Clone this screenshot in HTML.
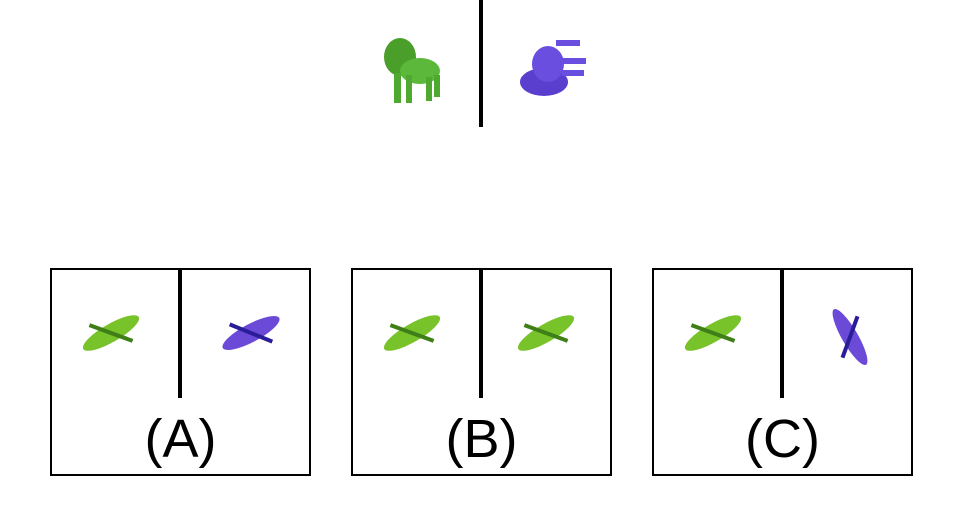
<!DOCTYPE html>
<html><head><meta charset="utf-8"><style>
body{margin:0;width:963px;height:526px;background:#fff;position:relative;overflow:hidden;font-family:"Liberation Sans",sans-serif}
.box{position:absolute;top:268px;width:257px;height:204px;border:2px solid #000;background:#fff}
.div{position:absolute;left:126px;top:0;width:4px;height:128px;background:#000}
.lab{position:absolute;left:0;width:100%;top:138px;text-align:center;font-size:54px;line-height:62px;color:#000}
svg{position:absolute}
</style></head><body>
<div style="position:absolute;left:479px;top:0;width:4px;height:127px;background:#000"></div>
<svg style="left:380px;top:35px" width="64" height="70" viewBox="0 0 64 70">
<ellipse cx="20" cy="22" rx="16" ry="19" fill="#4a9e2a"/><ellipse cx="40" cy="36" rx="20" ry="13" fill="#5cb83a"/>
<rect x="14" y="38" width="7" height="30" fill="#4fa82f"/><rect x="26" y="40" width="6" height="28" fill="#4fa82f"/><rect x="46" y="42" width="6" height="24" fill="#4fa82f"/><rect x="54" y="40" width="6" height="22" fill="#4fa82f"/>
</svg>
<svg style="left:518px;top:36px" width="70" height="64" viewBox="0 0 70 64">
<ellipse cx="26" cy="46" rx="24" ry="14" fill="#5a3fcf"/><ellipse cx="30" cy="28" rx="16" ry="18" fill="#6a4ee0"/>
<rect x="38" y="4" width="24" height="6" fill="#6a4ee0"/><rect x="42" y="22" width="26" height="6" fill="#6a4ee0"/><rect x="44" y="34" width="22" height="6" fill="#6a4ee0"/>
</svg>

<div class="box" style="left:50px">
<div class="div"></div>
<svg style="left:26px;top:38px" width="66" height="50"><g transform="rotate(-30 33 25)"><ellipse cx="33" cy="25" rx="32" ry="9" fill="#78c22a"/><rect x="10" y="23" width="46" height="4" fill="#3f7f18" transform="rotate(50 33 25)"/></g></svg>
<svg style="left:166px;top:38px" width="66" height="50"><g transform="rotate(-28 33 25)"><ellipse cx="33" cy="25" rx="32" ry="9" fill="#6b4ad8"/><rect x="10" y="23" width="46" height="4" fill="#2a1d9a" transform="rotate(50 33 25)"/></g></svg>
<div class="lab">(A)</div></div>

<div class="box" style="left:351px">
<div class="div"></div>
<svg style="left:26px;top:38px" width="66" height="50"><g transform="rotate(-30 33 25)"><ellipse cx="33" cy="25" rx="32" ry="9" fill="#78c22a"/><rect x="10" y="23" width="46" height="4" fill="#3f7f18" transform="rotate(50 33 25)"/></g></svg>
<svg style="left:160px;top:38px" width="66" height="50"><g transform="rotate(-30 33 25)"><ellipse cx="33" cy="25" rx="32" ry="9" fill="#78c22a"/><rect x="10" y="23" width="46" height="4" fill="#3f7f18" transform="rotate(50 33 25)"/></g></svg>
<div class="lab">(B)</div></div>

<div class="box" style="left:652px">
<div class="div"></div>
<svg style="left:26px;top:38px" width="66" height="50"><g transform="rotate(-30 33 25)"><ellipse cx="33" cy="25" rx="32" ry="9" fill="#78c22a"/><rect x="10" y="23" width="46" height="4" fill="#3f7f18" transform="rotate(50 33 25)"/></g></svg>
<svg style="left:168px;top:34px" width="56" height="66"><g transform="rotate(60 28 33)"><ellipse cx="28" cy="33" rx="32" ry="8" fill="#6b4ad8"/><rect x="6" y="31" width="44" height="4" fill="#2a1d9a" transform="rotate(50 28 33)"/></g></svg>
<div class="lab">(C)</div></div>
</body></html>
